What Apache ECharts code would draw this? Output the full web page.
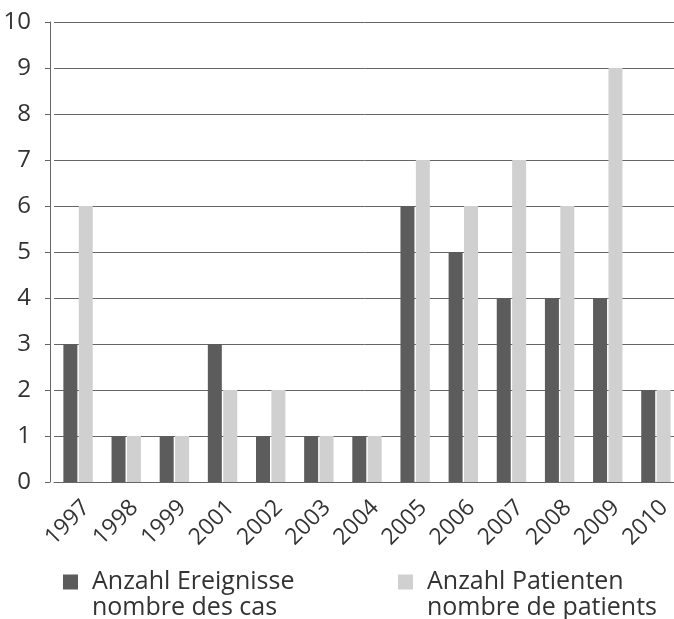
<!DOCTYPE html>
<html>
<head>
<meta charset="utf-8">
<script src="https://cdn.jsdelivr.net/npm/echarts@6/dist/echarts.min.js"></script>
<style>
html,body{margin:0;padding:0;background:#fff;}
#chart{width:674px;height:619px;}
</style>
</head>
<body>
<div id="chart"></div>
<script>
var years = ['1997','1998','1999','2001','2002','2003','2004','2005','2006','2007','2008','2009','2010'];
var ereignisse = [3,1,1,3,1,1,1,6,5,4,4,4,2];
var patienten = [6,1,1,2,2,1,1,7,6,7,6,9,2];
var yTicks = [0,1,2,3,4,5,6,7,8,9,10];
var nameA = 'Anzahl Ereignisse\nnombre des cas';
var nameB = 'Anzahl Patienten\nnombre de patients';

var font = '"Open Sans", "Noto Sans", sans-serif';
var chart = echarts.init(document.getElementById('chart'), null, {renderer:'canvas'});
function legendFmt(name){
  return '\n' + name.split('\n').map(function(s){ return '{t|' + s + '}'; }).join('\n');
}
var legendText = {
  fontFamily: font, fontSize: 25, color: '#333', lineHeight: 26,
  rich: {t: {fontFamily: font, fontSize: 25, color: '#333', lineHeight: 26, padding: [0,0,0,9]}}
};
chart.setOption({
  animation: false,
  backgroundColor: '#fff',
  grid: {left: 54, top: 22, width: 626, height: 460, containLabel: false, outerBoundsMode: 'none'},
  legend: [
    {data: [nameA], left: 63, top: 543, padding: 0, icon: 'rect', itemWidth: 15, itemHeight: 15, itemGap: 0, formatter: legendFmt, textStyle: legendText, selectedMode: false},
    {data: [nameB], left: 398, top: 543, padding: 0, icon: 'rect', itemWidth: 15, itemHeight: 15, itemGap: 0, formatter: legendFmt, textStyle: legendText, selectedMode: false}
  ],
  xAxis: {
    type: 'category',
    data: years,
    boundaryGap: true,
    axisLine: {show: true, lineStyle: {color: '#666', width: 1}},
    axisTick: {show: false},
    axisLabel: {rotate: 45, margin: 14, verticalAlign: 'top', fontFamily: font, fontSize: 23, color: '#333', interval: 0}
  },
  yAxis: {
    type: 'value',
    min: yTicks[0],
    max: yTicks[yTicks.length-1],
    interval: 1,
    offset: 4,
    axisLine: {show: true, lineStyle: {color: '#666', width: 1}},
    axisTick: {show: true, length: 5, lineStyle: {color: '#666'}},
    axisLabel: {margin: 19, fontFamily: font, fontSize: 24, color: '#333'},
    splitLine: {show: true, lineStyle: {color: '#666', width: 1}}
  },
  series: [
    {name: nameA, type: 'bar', data: ereignisse, barWidth: 14, barGap: '10%', itemStyle: {color: '#5c5c5c'}},
    {name: nameB, type: 'bar', data: patienten, barWidth: 14, itemStyle: {color: '#d0d0d0'}}
  ]
});
</script>
</body>
</html>
